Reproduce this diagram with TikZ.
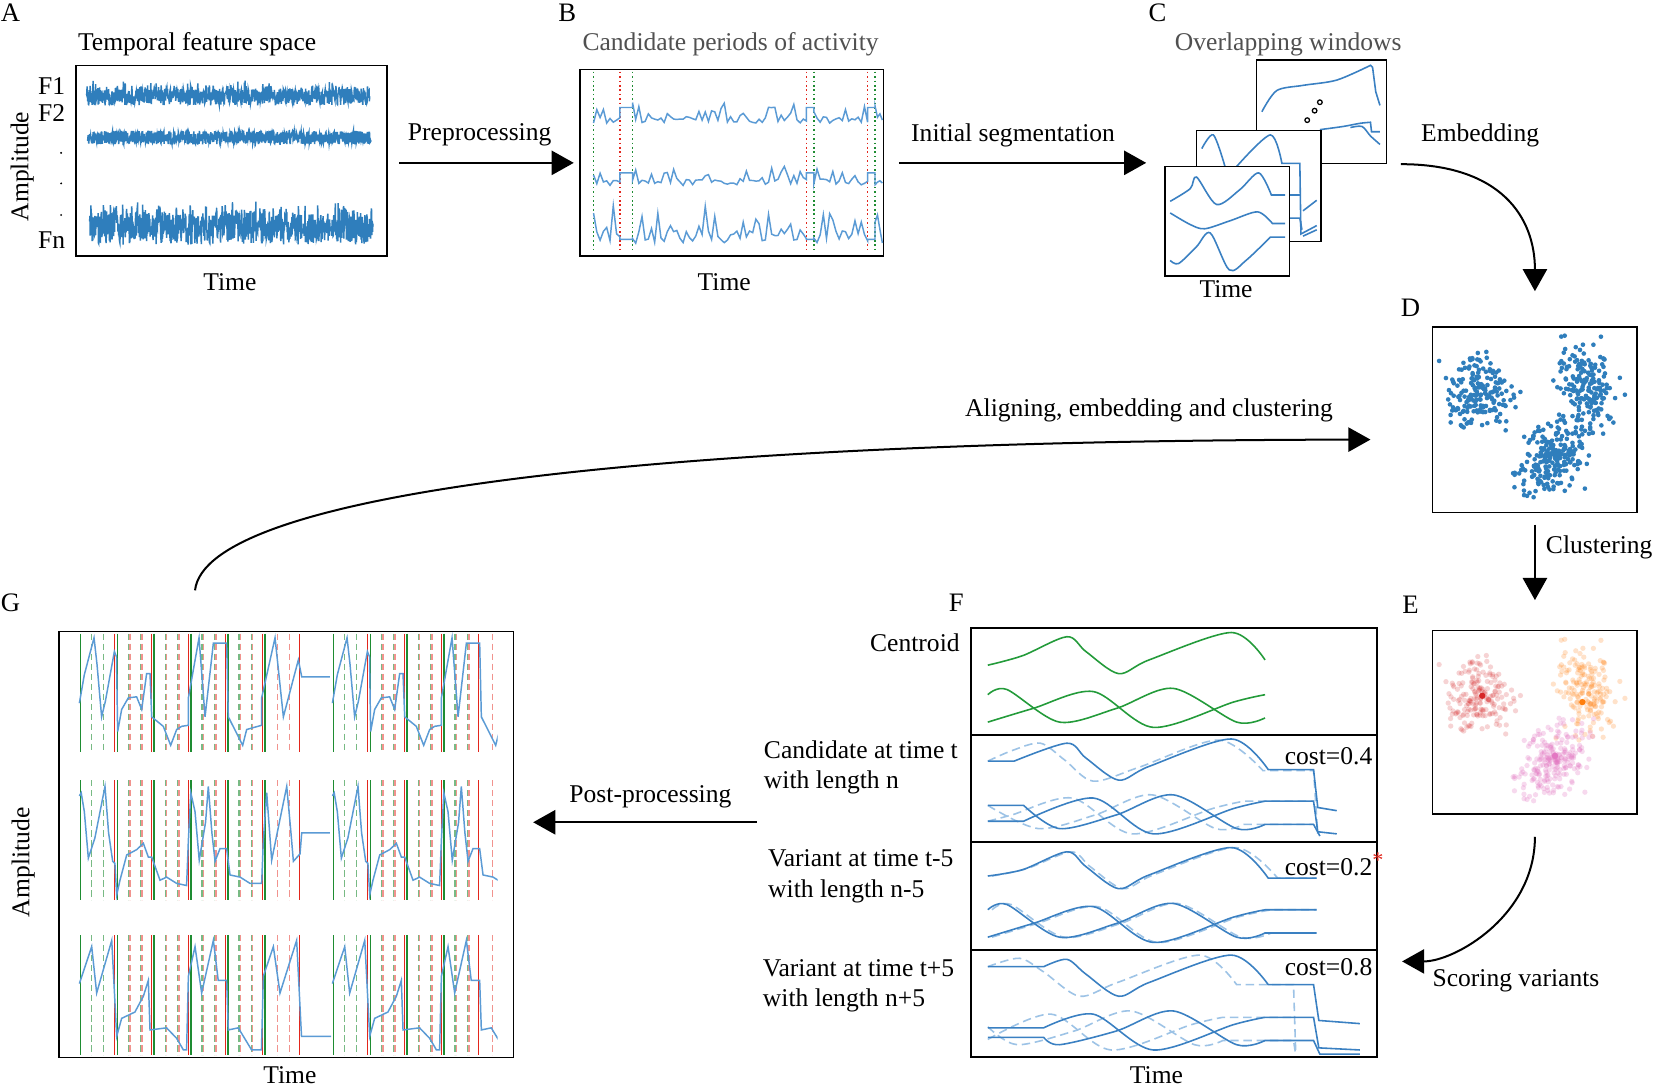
\documentclass[tikz,border=0pt]{standalone}
\usepackage{fontspec}
\setmainfont{Liberation Serif}
\usetikzlibrary{calc, positioning, arrows.meta}

\definecolor{featblue}{HTML}{2F7EBC}
\definecolor{sigblue}{HTML}{3A80C2}
\definecolor{lightsig}{HTML}{5B9BD5}
\definecolor{dashblue}{HTML}{9DC3E6}
\definecolor{segred}{HTML}{E3261C}
\definecolor{seggreen}{HTML}{1E8C32}
\definecolor{cgreen}{HTML}{239B3A}
\definecolor{clred}{HTML}{D62728}
\definecolor{clorange}{HTML}{FF7F0E}
\definecolor{clpink}{HTML}{E377C2}
\definecolor{titlegray}{HTML}{505050}

% same random clouds for panels D and E
\newcommand{\clusterdots}[4]{%
  \pgfmathsetseed{23}%
  \foreach \i in {1,...,190}{%
    \pgfmathsetmacro\du{rnd+rnd+rnd-1.5}%
    \pgfmathsetmacro\dv{rnd+rnd+rnd-1.5}%
    \fill[#1] ({1403+30*\du},{372+34*\dv}) circle[radius=#4];%
  }%
  \foreach \i in {1,...,180}{%
    \pgfmathsetmacro\du{rnd+rnd+rnd-1.5}%
    \pgfmathsetmacro\dv{rnd+rnd+rnd-1.5}%
    \fill[#2] ({1504+28*\du+6*\dv},{368+42*\dv}) circle[radius=#4];%
  }%
  \foreach \i in {1,...,230}{%
    \pgfmathsetmacro\du{rnd+rnd+rnd-1.5}%
    \pgfmathsetmacro\dv{rnd+rnd+rnd-1.5}%
    \fill[#3] ({1474+30*\du-12*\dv},{433+34*\dv}) circle[radius=#4];%
  }%
}

\begin{document}
\begin{tikzpicture}[x=0.1mm, y=-0.1mm, inner sep=0pt,
  font=\fontsize{6.9}{8.3}\selectfont,
  plotbox/.style={draw, line width=0.15mm, fill=white, inner sep=0pt},
  letter/.style={font=\fontsize{7.2}{8.6}\selectfont},
  flow/.style={line width=0.19mm, -{Triangle[length=2.1mm, width=2.3mm]}},
  bsig/.style={lightsig, line width=0.14mm},
  gsig/.style={lightsig, line width=0.14mm},
  gdash/.style={seggreen!60, line width=0.12mm, dash pattern=on 0.6mm off 0.35mm},
  rdash/.style={segred!50, line width=0.12mm, dash pattern=on 0.6mm off 0.35mm},
  fsolid/.style={sigblue, line width=0.15mm},
  fdash/.style={dashblue, line width=0.15mm, dash pattern=on 0.8mm off 0.45mm},
  cline/.style={cgreen, line width=0.15mm}
]
\useasboundingbox (0,0) rectangle (1568,1028);

% Panel A
\node[letter] (tagA) at (10,12) {A};
\node[plotbox, minimum width=29.5mm, minimum height=18.1mm] (boxA) at (219.5,152.5) {};
\node (titleA) at (187,42) {Temporal feature space};
\node (fone) at (49,82) {F1};
\node (ftwo) at (49,107) {F2};
\node (fn) at (49,228) {Fn};
\foreach \yy in {145,174,204} \fill (58,\yy) circle[radius=0.1mm];
\node[rotate=90] (ampA) at (21,158) {Amplitude};
\node (timeA) at (218,268) {Time};
\pgfmathsetseed{11}
\draw[featblue, line width=0.14mm] plot[domain=82:351, samples=900] (\x,{100-16*rnd-8*(rnd>0.7)*rnd});
\draw[featblue, line width=0.14mm] plot[domain=83:352, samples=900] (\x,{137-13*rnd});
\draw[featblue, line width=0.14mm] plot[domain=85:354, samples=900] (\x,{232-30*rnd-12*(rnd>0.6)*rnd});

% Panel B
\node[letter] (tagB) at (538,12) {B};
\node[plotbox, minimum width=28.8mm, minimum height=17.7mm] (boxB) at (694,154.5) {};
\node[text=titlegray] (titleB) at (693,42) {Candidate periods of activity};
\node (timeB) at (687,268) {Time};
\foreach \xx in {563,600,772,830}
  \draw[seggreen, line width=0.16mm, dash pattern=on 0.16mm off 0.26mm] (\xx,68) -- (\xx,240);
\foreach \xx in {588,765,823}
  \draw[segred, line width=0.16mm, dash pattern=on 0.16mm off 0.26mm] (\xx,68) -- (\xx,240);
\pgfmathsetseed{5}
\foreach \base/\amp/\flat in {117/22/102, 176/21/164, 231/40/227}{
  \draw[bsig] plot[domain=563:588, samples=9] (\x,{\base-0.3*\amp*rnd-0.7*\amp*(rnd>0.65)*rnd})
    -- (588,\flat) -- (600,\flat)
    -- plot[domain=600:765, samples=56] (\x,{\base-0.3*\amp*rnd-0.7*\amp*(rnd>0.65)*rnd})
    -- (765,\flat) -- (772,\flat)
    -- plot[domain=772:823, samples=18] (\x,{\base-0.3*\amp*rnd-0.7*\amp*(rnd>0.65)*rnd})
    -- (823,\flat) -- (830,\flat)
    -- plot[domain=830:837, samples=4] (\x,{\base-0.3*\amp*rnd-0.7*\amp*(rnd>0.65)*rnd});
}

% Panel C: stacked windows
\node[letter] (tagC) at (1098,12) {C};
\node[text=titlegray] (titleC) at (1222,42) {Overlapping windows};
\node[plotbox, minimum width=12.3mm, minimum height=9.8mm] (winback) at (1253.5,106) {};
\draw[fsolid] plot[smooth] coordinates {(1197,106) (1211,86) (1236,81) (1268,76) (1300,62)}
  -- (1302,64) -- plot[smooth] coordinates {(1305,87) (1309,100)};
\draw[fsolid] plot[smooth] coordinates {(1252,123) (1274,120) (1290,117) (1300,116)} -- (1301,125) -- (1309,125);
\draw[fsolid] plot[smooth] coordinates {(1281,121) (1292,120) (1300,129) (1309,137)};
\foreach \cx/\cy in {1240/114, 1247/105, 1252/97}
  \draw[line width=0.12mm] (\cx,\cy) circle[radius=0.22mm];
\node[plotbox, minimum width=11.8mm, minimum height=10.5mm] (winmid) at (1194,176.5) {};
\draw[fsolid] plot[smooth] coordinates {(1140,141) (1151,128) (1162,158)};
\draw[fsolid] plot[smooth] coordinates {(1173,158) (1205,128) (1216,155)} -- (1233,155) -- (1234,222) -- (1249,214);
\draw[fsolid] (1223,185) -- (1233,185);
\draw[fsolid] (1223,207) -- (1233,207) -- (1235,218);
\draw[fsolid] (1236,200) -- (1249,190);
\draw[fsolid] (1236,224) -- (1249,218);
\node[plotbox, minimum width=11.8mm, minimum height=10.4mm] (winfront) at (1164,210) {};
\draw[fsolid] plot[smooth] coordinates {(1110,191) (1129,179) (1135,168) (1154,194) (1176,180) (1194,164) (1206,185)} -- (1219,185);
\draw[fsolid] plot[smooth] coordinates {(1110,202) (1129,213) (1143,217) (1168,209) (1193,201) (1207,212)} -- (1219,212);
\draw[fsolid] plot[smooth] coordinates {(1110,247) (1118,250) (1135,234) (1148,221) (1166,256) (1182,247) (1205,225)} -- (1219,225);
\node (timeC) at (1163,274) {Time};

% Panel D
\node[letter] (tagD) at (1338,292) {D};
\node[plotbox, minimum width=19.4mm, minimum height=17.6mm] (boxD) at (1456,398) {};
\begin{scope}
  \clip (1360,311) rectangle (1552,485);
  \clusterdots{featblue}{featblue}{featblue}{0.22mm}
\end{scope}

% Panel E
\node[letter] (tagE) at (1338,574) {E};
\node[plotbox, minimum width=19.4mm, minimum height=17.4mm] (boxE) at (1456,685) {};
\begin{scope}
  \clip (1360,599) rectangle (1552,771);
  \begin{scope}[shift={(0,288)}]
    \clusterdots{clred, fill opacity=0.2}{clorange, fill opacity=0.22}{clpink, fill opacity=0.28}{0.25mm}
    \fill[clred] (1406,372) circle[radius=0.3mm];
    \fill[clorange] (1501,378) circle[radius=0.3mm];
    \fill[clpink] (1475,429) circle[radius=0.3mm];
  \end{scope}
\end{scope}

% Panel F: centroid and variants
\node[letter] (tagF) at (907,572) {F};
\node[plotbox, line width=0.18mm, minimum width=38.5mm, minimum height=10.1mm] (centroidbox) at (1113.5,646.5) {};
\node[plotbox, line width=0.18mm, minimum width=38.5mm, minimum height=10.2mm] (candbox) at (1113.5,748) {};
\node[plotbox, line width=0.18mm, minimum width=38.5mm, minimum height=10.2mm] (earlybox) at (1113.5,850) {};
\node[plotbox, line width=0.18mm, minimum width=38.5mm, minimum height=10.2mm] (latebox) at (1113.5,952) {};
\node[anchor=east] (centroidtxt) at (911,610) {Centroid};
\node[anchor=west, align=left] (candtxt) at (724,728) {Candidate at time t\\with length n};
\node[anchor=west, align=left] (earlytxt) at (728,831) {Variant at time t-5\\with length n-5};
\node[anchor=west, align=left] (latetxt) at (723,935) {Variant at time t+5\\with length n+5};
\node (timeF) at (1097,1020) {Time};

\draw[cline] plot[smooth] coordinates {(937,631) (970,622) (1012,604) (1030,618) (1061,639) (1090,626) (1168,600) (1200,626)};
\draw[cline] plot[smooth] coordinates {(937,659) (955,654) (1005,685) (1059,672) (1113,653) (1173,685) (1200,681)};
\draw[cline] plot[smooth] coordinates {(937,685) (980,672) (1037,656) (1094,690) (1170,666) (1200,659)};

\begin{scope}[shift={(0,101)}]
  \draw[fdash] plot[smooth] coordinates {(937,621) (960,611) (987,604) (1010,620) (1037,640) (1080,627) (1156,601) (1198,630)} -- (1246,630) -- (1250,690);
  \draw[fdash] plot[smooth] coordinates {(937,663) (985,685) (1039,672) (1093,653) (1153,685) (1180,681)} -- (1246,681);
  \draw[fdash] plot[smooth] coordinates {(937,678) (960,672) (1017,656) (1074,690) (1150,666) (1180,659)} -- (1246,659);
  \draw[fsolid] (937,621) -- plot[smooth] coordinates {(962,621) (1012,604) (1030,618) (1061,639) (1090,626) (1168,600) (1203,629)} -- (1246,629) -- (1250,665) -- (1268,668);
  \draw[fsolid] (937,663) -- plot[smooth] coordinates {(971,663) (1005,685) (1059,672) (1113,653) (1173,685) (1200,681)} -- (1246,681) -- (1252,692);
  \draw[fsolid] (937,678) -- plot[smooth] coordinates {(971,678) (1037,656) (1094,690) (1170,666) (1200,659)} -- (1246,659) -- (1250,688) -- (1268,690);
\end{scope}

\begin{scope}[shift={(0,204)}]
  \draw[fdash] plot[smooth] coordinates {(941,627) (974,620) (1016,604) (1034,618) (1065,639) (1094,626) (1172,600) (1212,629)} -- (1249,629);
  \draw[fdash] plot[smooth] coordinates {(941,659) (959,654) (1009,685) (1063,672) (1117,653) (1177,685) (1206,681)} -- (1249,681);
  \draw[fdash] plot[smooth] coordinates {(941,685) (984,672) (1041,656) (1098,690) (1174,666) (1206,659)} -- (1249,659);
  \draw[fsolid] plot[smooth] coordinates {(937,627) (970,621) (1012,604) (1030,618) (1061,639) (1090,626) (1168,600) (1203,629)} -- (1249,629);
  \draw[fsolid] plot[smooth] coordinates {(937,659) (955,654) (1005,685) (1059,672) (1113,653) (1173,685) (1200,681)} -- (1249,681);
  \draw[fsolid] plot[smooth] coordinates {(937,685) (980,672) (1037,656) (1094,690) (1170,666) (1200,659)} -- (1249,659);
\end{scope}

\begin{scope}[shift={(0,306)}]
  \draw[fdash] plot[smooth] coordinates {(937,611) (967,603) (990,616) (1024,639) (1060,626) (1138,600) (1173,628)} -- (1227,628) -- (1229,690);
  \draw[fdash] plot[smooth] coordinates {(937,668) (965,685) (1019,672) (1073,653) (1133,685) (1160,681)} -- (1227,681) -- (1229,694);
  \draw[fdash] plot[smooth] coordinates {(937,680) (997,656) (1054,690) (1130,666) (1160,659)} -- (1227,659);
  \draw[fsolid] (937,611) -- plot[smooth] coordinates {(990,611) (1012,604) (1030,618) (1061,639) (1090,626) (1168,600) (1203,628)} -- (1246,628) -- (1251,662) -- (1290,665);
  \draw[fsolid] (937,678) -- plot[smooth] coordinates {(990,678) (1005,685) (1059,672) (1113,653) (1173,685) (1200,681)} -- (1246,681) -- (1252,694) -- (1290,694);
  \draw[fsolid] (937,669) -- plot[smooth] coordinates {(990,669) (1037,656) (1094,690) (1170,666) (1200,659)} -- (1246,659) -- (1251,688) -- (1290,690);
\end{scope}

\node[anchor=west] (costcand) at (1218,717) {cost=0.4};
\node[anchor=west] (costearly) at (1218,820) {cost=0.2\raisebox{0.7ex}{\textcolor{segred}{\fontsize{6}{6}\selectfont *}}};
\node[anchor=west] (costlate) at (1218,917) {cost=0.8};

% Panel G: final segmentation
\node[letter] (tagG) at (10,572) {G};
\node[plotbox, minimum width=43.1mm, minimum height=40.4mm] (boxG) at (271.5,801) {};
\node[rotate=90] (ampG) at (22,818) {Amplitude};
\node (timeG) at (275,1020) {Time};
\foreach \top/\bot in {601/713, 740/854, 887/1001}{
  \foreach \s in {75,110,145,180,215,315,350,385,420}
    \draw[gdash] (\s+11.7,\top) -- (\s+11.7,\bot) (\s+23.3,\top) -- (\s+23.3,\bot);
  \foreach \s in {110,145,180,215,250,350,385,420}
    \draw[rdash] (\s+13.2,\top) -- (\s+13.2,\bot) (\s+24.8,\top) -- (\s+24.8,\bot);
  \draw[rdash] (467,\top) -- (467,\bot);
  \foreach \s in {110,145,180,215,250,285,350,385,420,455}
    \draw[segred, line width=0.13mm] (\s-1.2,\top) -- (\s-1.2,\bot);
  \foreach \s in {75,110,145,180,215,250,315,350,385,420}
    \draw[seggreen, line width=0.13mm] (\s+1.2,\top) -- (\s+1.2,\bot);
}
\foreach \dx/\xr in {0/314, 240/472}{
  \begin{scope}
    \clip (\dx+70,590) rectangle (\xr,1010);
    \begin{scope}[shift={(\dx,0)}]
      \draw[gsig] plot coordinates {(75.3,667) (80,640) (89.2,605) (92,630) (96.4,680) (100,665) (108.5,618) (110.5,623) (111.6,694) (115.4,673) (121.7,662) (129.6,661) (134.4,673) (139.1,639) (142.3,639) (143.9,680) (154.9,689) (161.9,707) (167.6,692) (172.3,689) (178.7,688) (178.7,662) (188.8,605) (194.5,680) (202.4,610) (215,610) (216.6,680) (230.2,707) (234,692) (248.2,688) (248.2,662) (260.9,605) (268.8,680) (283,626) (286.2,642) (313,642)};
      \draw[gsig] plot coordinates {(75.3,755) (77,752) (80,770) (83.8,814) (90,795) (99.6,746) (103,790) (106.9,817) (109,819) (110.7,849) (113.8,835) (120.2,811) (129.6,806) (136,800) (140.7,813) (143.9,813) (151.8,835) (158,832) (167.6,838) (177,840) (178.7,797) (181,752) (185,770) (189,816) (195,780) (197.6,746) (201,790) (204,817) (208.7,805) (215,805) (218.2,830) (227.7,832) (237.2,838) (248.2,838) (249.8,797) (253,752) (257.7,816) (265,780) (272,746) (276,790) (278.3,817) (284.6,810) (286.2,790) (313,790)};
      \draw[gsig] plot coordinates {(75.3,933) (87,898) (91.7,942) (106,892) (110.7,983) (115.4,966) (128,960) (136,945) (140.7,930) (142.3,977) (158,975) (167.6,985) (174,996) (177,996) (178.7,926) (185,898) (191.3,942) (202.4,892) (207,930) (215,930) (216.6,977) (226,975) (238.7,996) (248,996) (249.8,926) (259.3,898) (265.6,942) (281.4,892) (286,983) (314.6,983)};
    \end{scope}
  \end{scope}
}

% Connectors
\coordinate (postfrom) at (718,780);
\coordinate (alignfrom) at (185,560);
\coordinate (alignto) at (1300,417);
\coordinate (scoreto) at (1330,912);
\draw[flow] ([xshift=1.1mm]boxA.east |- boxB.west) -- ([xshift=-0.5mm]boxB.west);
\node (preptxt) at (455,128) {Preprocessing};
\draw[flow] ([xshift=1.4mm]boxB.east) -- ([xshift=-1.7mm]winfront.west |- boxB.east);
\node (segtxt) at (961,128) {Initial segmentation};
\draw[flow] ([xshift=1.3mm]winback.south east) .. controls +(9.5mm,0) and +(0,7mm) .. ([yshift=3.3mm]boxD.north);
\node (embtxt) at (1404,128) {Embedding};
\draw[flow] ([yshift=-1.1mm]boxD.south) -- ([yshift=2.8mm]boxE.north);
\node (clustxt) at (1517,519) {Clustering};
\draw[flow] ([yshift=-2.1mm]boxE.south) .. controls +(0,-7.5mm) and +(5mm,0) .. (scoreto);
\node (scoretxt) at (1438,930) {Scoring variants};
\draw[flow] (postfrom) -- ([xshift=1.8mm]boxG.east |- postfrom);
\node (posttxt) at (617,756) {Post-processing};
\draw[flow] (alignfrom) .. controls (195,470) and (600,418) .. (alignto);
\node (aligntxt) at (1090,389) {Aligning, embedding and clustering};

\end{tikzpicture}
\end{document}
